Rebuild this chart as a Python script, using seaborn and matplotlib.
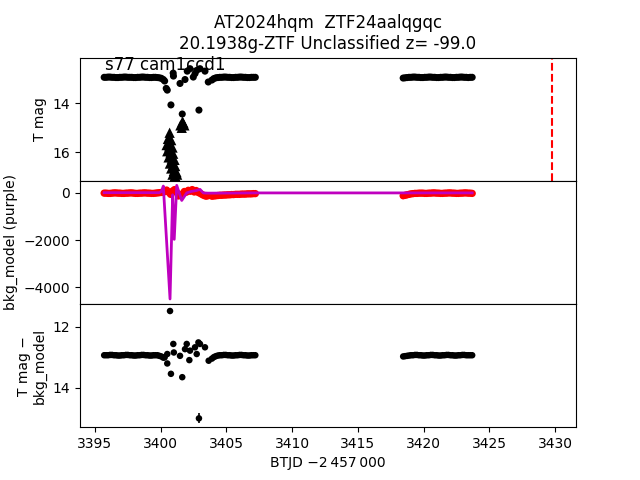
import matplotlib
matplotlib.use("Agg")
import matplotlib.pyplot as plt
import seaborn as sns

# --- data ---
# quiet baseline segments (BTJD - 2457000)
t_seg_a = [3395.7, 3395.85, 3396.0, 3396.15, 3396.3, 3396.45, 3396.6, 3396.75, 3396.9, 3397.05,
           3397.2, 3397.35, 3397.5, 3397.65, 3397.8, 3397.95, 3398.1, 3398.25, 3398.4, 3398.55,
           3398.7, 3398.85, 3399.0, 3399.15, 3399.3, 3399.45, 3399.6, 3399.75, 3399.9, 3400.05,
           3400.2]
t_seg_b = [3403.9, 3404.05, 3404.2, 3404.35, 3404.5, 3404.65, 3404.8, 3404.95, 3405.1, 3405.25,
           3405.4, 3405.55, 3405.7, 3405.85, 3406.0, 3406.15, 3406.3, 3406.45, 3406.6, 3406.75,
           3406.9, 3407.05, 3407.2]
t_seg_c = [3418.45, 3418.6, 3418.75, 3418.9, 3419.05, 3419.2, 3419.35, 3419.5, 3419.65, 3419.8,
           3419.95, 3420.1, 3420.25, 3420.4, 3420.55, 3420.7, 3420.85, 3421.0, 3421.15, 3421.3,
           3421.45, 3421.6, 3421.75, 3421.9, 3422.05, 3422.2, 3422.35, 3422.5, 3422.65, 3422.8,
           3422.95, 3423.1, 3423.25, 3423.4, 3423.55, 3423.7]

# T mag on the baseline
tmag_a = [12.95, 12.95, 12.94, 12.94, 12.95, 12.95, 12.96, 12.96, 12.95, 12.95,
          12.94, 12.94, 12.95, 12.95, 12.95, 12.96, 12.96, 12.95, 12.95, 12.94,
          12.94, 12.95, 12.95, 12.96, 12.96, 12.95, 12.95, 12.96, 12.97, 12.99,
          13.04]
tmag_b = [13.06, 13.0, 12.97, 12.96, 12.95, 12.95, 12.94, 12.94, 12.95, 12.95,
          12.96, 12.96, 12.95, 12.95, 12.94, 12.94, 12.95, 12.95, 12.96, 12.96,
          12.95, 12.95, 12.95]
tmag_c = [12.98, 12.97, 12.96, 12.95, 12.95, 12.94, 12.94, 12.95, 12.95, 12.96,
          12.96, 12.95, 12.95, 12.94, 12.94, 12.95, 12.95, 12.96, 12.96, 12.95,
          12.95, 12.94, 12.94, 12.95, 12.95, 12.96, 12.96, 12.95, 12.95, 12.94,
          12.94, 12.95, 12.95, 12.96, 12.95, 12.95]

# T mag around the event
t_top_dip = [3400.3, 3400.42, 3400.5, 3400.78, 3400.95, 3400.97, 3401.47, 3401.64, 3401.85,
             3402.02, 3402.23, 3402.48, 3402.61, 3402.74, 3402.91, 3402.99, 3403.37, 3403.62]
tmag_dip = [13.1, 13.4, 13.47, 14.07, 12.78, 12.9, 13.2, 14.44, 13.04,
            12.7, 12.6, 12.94, 12.8, 12.67, 14.28, 12.6, 12.7, 13.14]

# limits (triangles)
t_lim = [3400.68, 3400.55, 3400.8, 3400.45, 3400.65, 3400.9, 3400.5, 3400.75, 3400.95, 3400.6,
         3400.85, 3401.05, 3400.7, 3400.95, 3401.1, 3400.8, 3401.0, 3401.2, 3400.9, 3401.1,
         3401.25, 3401.0, 3401.15,
         3401.65, 3401.5, 3401.8, 3401.6, 3401.72]
tmag_lim = [15.2, 15.45, 15.5, 15.7, 15.75, 15.8, 15.95, 16.0, 16.05, 16.2,
            16.25, 16.3, 16.45, 16.5, 16.55, 16.65, 16.75, 16.8, 16.9, 16.95,
            16.9, 17.05, 17.05,
            14.75, 14.9, 14.9, 15.0, 14.8]

# background flux points (red)
bkg_a = [-10, -10, -20, -20, -10, 0, 0, -10, -10, -20, -20, -10, -10, 0, 0, -10, -20, -20, -10, -10,
         0, 0, -10, -10, -20, -20, -10, 0, 10, 20, 30]
t_bkg_dip = [3400.3, 3400.45, 3400.6, 3400.75, 3400.9, 3401.05, 3401.2, 3401.35, 3401.5, 3401.65,
             3401.8, 3401.95, 3402.1, 3402.25, 3402.4, 3402.55, 3402.7, 3402.85, 3403.0, 3403.15,
             3403.3, 3403.45, 3403.6]
bkg_dip = [60, 120, 30, -60, 80, 140, 20, -130, -90, -40, 60, 30, 110, 70, 140, 40, 100, 20,
           -20, -70, -110, -140, -120]
bkg_b = [-140, -130, -120, -110, -100, -100, -90, -90, -80, -80, -70, -70, -60, -60, -60, -50,
         -50, -50, -40, -40, -40, -30, -30]
bkg_c = [-120, -100, -80, -60, -40, -30, -20, -20, -10, -10, -10, -20, -20, -10, -10, 0, 0, -10,
         -10, -20, -20, -10, -10, 0, 0, -10, -10, -20, -20, -10, -10, 0, 0, -10, -10, -20]

# background model (purple line)
t_model = [3395.7, 3399.9, 3400.05, 3400.2, 3400.71, 3400.91, 3401.03, 3401.22, 3401.6,
           3401.98, 3402.3, 3402.7, 3402.99, 3403.24, 3403.6, 3407.2, 3418.45, 3423.7]
bkg_model = [10, 10, 60, 290, -4500, -80, -1970, 320, -320, 0, 60, 100, 150, 0, -10, 0, 0, 0]

# T mag - bkg_model
diff_a = [12.93, 12.93, 12.93, 12.92, 12.92, 12.93, 12.93, 12.94, 12.94, 12.93,
          12.93, 12.92, 12.92, 12.93, 12.93, 12.94, 12.94, 12.93, 12.93, 12.92,
          12.92, 12.93, 12.93, 12.94, 12.94, 12.93, 12.93, 12.93, 12.95, 12.97,
          13.01]
diff_b = [13.04, 12.99, 12.96, 12.94, 12.93, 12.93, 12.92, 12.92, 12.93, 12.93,
          12.94, 12.94, 12.93, 12.93, 12.92, 12.92, 12.93, 12.93, 12.94, 12.94,
          12.93, 12.93, 12.93]
diff_c = [12.97, 12.96, 12.95, 12.94, 12.93, 12.93, 12.92, 12.92, 12.93, 12.93,
          12.94, 12.94, 12.93, 12.93, 12.92, 12.92, 12.93, 12.93, 12.94, 12.94,
          12.93, 12.93, 12.92, 12.92, 12.93, 12.93, 12.94, 12.94, 12.93, 12.93,
          12.92, 12.92, 12.93, 12.93, 12.93, 12.93]
t_bot_dip = [3400.3, 3400.5, 3400.5, 3400.71, 3400.78, 3400.96, 3401.0, 3401.47, 3401.64,
             3401.85, 3401.98, 3402.18, 3402.23, 3402.61, 3402.74, 3402.87, 3402.99, 3403.37,
             3403.65, 3402.91]
diff_dip = [13.0, 12.89, 13.2, 11.48, 13.54, 12.56, 12.84, 12.95, 13.65,
            12.73, 12.56, 13.09, 12.78, 12.67, 12.89, 12.51, 12.56, 12.67,
            13.11, 15.0]
diff_err = [0.16]  # error on the faint outlier (last point)

t_peak = 3429.8  # red dashed line

title = "AT2024hqm  ZTF24aalqgqc\n20.1938g-ZTF Unclassified z= -99.0"
sector_label = "s77 cam1ccd1"

# no white rims round the markers
pts = dict(linewidth=0, edgecolor="none")

# --- figure ---
fig, axes = plt.subplots(3, 1, sharex=True, figsize=(6.4, 4.8), dpi=100)
fig.subplots_adjust(hspace=0)
ax_top, ax_mid, ax_bot = axes

# top: T mag
t_top = t_seg_a + t_top_dip + t_seg_b + t_seg_c
m_top = tmag_a + tmag_dip + tmag_b + tmag_c
sns.scatterplot(x=t_top, y=m_top, color="k", marker="o", s=26, ax=ax_top, **pts)
sns.scatterplot(x=t_lim, y=tmag_lim, color="k", marker="^", s=55, ax=ax_top, **pts)
ax_top.axvline(t_peak, color="r", ls="--", lw=1.5)
ax_top.set_ylim(17.15, 12.15)
ax_top.set_yticks([14, 16])
ax_top.set_ylabel("T mag")
ax_top.text(0.05, 0.9, sector_label, transform=ax_top.transAxes, fontsize=12)
ax_top.set_title(title)

# middle: background
t_mid = t_seg_a + t_bkg_dip + t_seg_b + t_seg_c
b_mid = bkg_a + bkg_dip + bkg_b + bkg_c
sns.scatterplot(x=t_mid, y=b_mid, color="r", marker="o", s=28, ax=ax_mid, **pts)
sns.lineplot(x=t_model, y=bkg_model, color="m", lw=2, estimator=None, sort=False, ax=ax_mid)
ax_mid.set_ylim(-4714, 514)
ax_mid.set_yticks([0, -2000, -4000])
ax_mid.set_ylabel("bkg_model (purple)")

# bottom: T mag - bkg_model
t_bot = t_seg_a + t_bot_dip + t_seg_b + t_seg_c
d_bot = diff_a + diff_dip + diff_b + diff_c
sns.scatterplot(x=t_bot, y=d_bot, color="k", marker="o", s=22, ax=ax_bot, **pts)
ax_bot.errorbar(t_bot_dip[-1:], diff_dip[-1:], yerr=diff_err, fmt="none", ecolor="k", lw=1.2)
ax_bot.set_ylim(15.29, 11.25)
ax_bot.set_yticks([12, 14])
ax_bot.set_ylabel("T mag \u2212\nbkg_model")
ax_bot.set_xlabel("BTJD \u22122\u2009457\u2009000")

ax_bot.set_xlim(3393.86, 3431.6)
for ax in (ax_top, ax_mid):
    ax.tick_params(axis="x", bottom=False, labelbottom=False)

fig.savefig("out.png", dpi=100)
